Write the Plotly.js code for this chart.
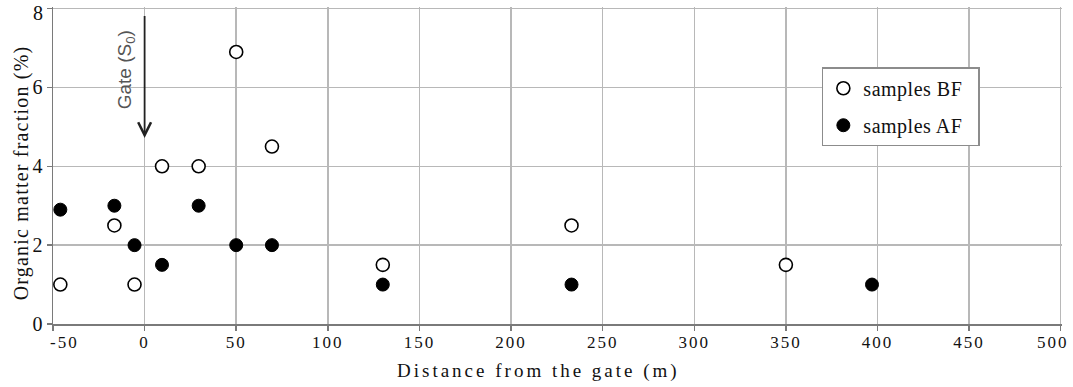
<!DOCTYPE html>
<html>
<head>
<meta charset="utf-8">
<script src="https://cdn.plot.ly/plotly-3.0.1.min.js"></script>
<style>
html,body{margin:0;padding:0;background:#fff;}
#chart{width:1073px;height:387px;}
.xtick text{letter-spacing:2px;}
.legendtext{letter-spacing:0.5px;}
.annotation[data-index="2"] text{letter-spacing:3px;}
.annotation[data-index="3"] text{letter-spacing:1.2px;}
.annotation[data-index="5"] text{letter-spacing:2px;}
.annotation[data-index="6"] text{letter-spacing:2px;}
</style>
</head>
<body>
<div id="chart"></div>
<script>
// Samples before flushing (open circles)
const bfDistance = [-46, -16.5, -5.5, 9.5, 29.5, 50, 69.5, 130, 233, 350];
const bfOrganic  = [1.0, 2.5, 1.0, 4.0, 4.0, 6.9, 4.5, 1.5, 2.5, 1.5];
// Samples after flushing (filled circles)
const afDistance = [-46, -16.5, -5.5, 9.5, 29.5, 50, 69.5, 130, 233, 397];
const afOrganic  = [2.9, 3.0, 2.0, 1.5, 3.0, 2.0, 2.0, 1.0, 1.0, 1.0];
const xTicks = [-50, 0, 50, 100, 150, 200, 250, 300, 350, 400, 450, 500];
const yTicks = [0, 2, 4, 6, 8];
const gateX = 0;

const serif = 'Liberation Serif, Times New Roman, serif';
const xFirst = xTicks[0], xLast = xTicks[xTicks.length - 1];
const yLast = yTicks[yTicks.length - 1];
const pad = '\u00a0\u00a0';

const traces = [
  {
    x: bfDistance, y: bfOrganic, mode: 'markers', type: 'scatter',
    name: 'samples BF' + pad, legendgroup: 'bf',
    marker: {size: 13, color: '#ffffff', line: {color: '#000000', width: 1.6}},
    cliponaxis: false
  },
  {
    x: afDistance, y: afOrganic, mode: 'markers', type: 'scatter',
    name: 'samples AF' + pad, legendgroup: 'af',
    marker: {size: 13, color: '#000000', line: {color: '#000000', width: 1}},
    cliponaxis: false
  }
];

const tickFontX = {family: serif, size: 17, color: '#111111'};
const tickFontY = {family: serif, size: 20, color: '#111111'};

const layout = {
  width: 1073, height: 387,
  margin: {l: 53, r: 11, t: 7, b: 63},
  paper_bgcolor: '#ffffff', plot_bgcolor: '#ffffff',
  font: {family: serif, color: '#111111'},
  showlegend: true,
  legend: {
    x: 0.762, y: 0.81, xanchor: 'left', yanchor: 'top',
    bgcolor: '#ffffff', bordercolor: '#8c8c8c', borderwidth: 1.5,
    font: {family: serif, size: 20, color: '#111111'},
    tracegroupgap: 8, traceorder: 'grouped'
  },
  xaxis: {
    range: [xFirst, xLast + 0.7], tickvals: xTicks,
    ticktext: xTicks.map((v, i) => (i === 0 || i === xTicks.length - 1) ? '' : String(v)),
    showgrid: true, gridcolor: '#b8b8b8', gridwidth: 1.5,
    showline: true, linecolor: '#7a7a7a', linewidth: 1.5,
    ticks: 'outside', ticklen: 5, tickcolor: '#7a7a7a', tickwidth: 1.5,
    tickfont: tickFontX, ticklabelstandoff: -3,
    zeroline: false
  },
  yaxis: {
    range: [yTicks[0], yLast + 0.04], tickvals: yTicks,
    ticktext: yTicks.map((v, i) => i === yTicks.length - 1 ? '' : String(v)),
    showgrid: true, gridcolor: '#b8b8b8', gridwidth: 1.5,
    showline: true, linecolor: '#7a7a7a', linewidth: 1.5,
    ticks: 'outside', ticklen: 5, tickcolor: '#7a7a7a', tickwidth: 1.5,
    tickfont: tickFontY,
    zeroline: false
  },
  annotations: [
    {
      x: gateX, y: 4.72, xref: 'x', yref: 'y',
      ax: gateX, ay: 7.85, axref: 'x', ayref: 'y',
      text: '', showarrow: true, arrowhead: 5, arrowsize: 1.4, arrowwidth: 1.8,
      arrowcolor: '#222222'
    },
    {
      x: gateX, y: 6.45, xref: 'x', yref: 'y', xshift: -19,
      text: 'Gate (S<sub>0</sub>)', showarrow: false, textangle: -90,
      font: {family: 'Liberation Sans, Arial, sans-serif', size: 19, color: '#555555'}
    },
    {
      x: 0.481, y: 0, xref: 'paper', yref: 'paper', yshift: -47, yanchor: 'middle',
      text: 'Distance from the gate (m)', showarrow: false,
      font: {family: serif, size: 19, color: '#111111'}
    },
    {
      x: 0, y: 0.476, xref: 'paper', yref: 'paper', xshift: -32, xanchor: 'center',
      text: 'Organic matter fraction (%)', showarrow: false, textangle: -90,
      font: {family: serif, size: 20, color: '#111111'}
    },
    {
      x: 0, y: yLast, xref: 'paper', yref: 'y', xanchor: 'right', yanchor: 'middle',
      xshift: -8, yshift: -4,
      text: String(yLast), showarrow: false, font: tickFontY
    },
    {
      x: xFirst, y: 0, xref: 'x', yref: 'paper', xanchor: 'center', yanchor: 'middle',
      xshift: 11, yshift: -18,
      text: String(xFirst), showarrow: false, font: tickFontX
    },
    {
      x: xLast, y: 0, xref: 'x', yref: 'paper', xanchor: 'center', yanchor: 'middle',
      xshift: -8, yshift: -18,
      text: String(xLast), showarrow: false, font: tickFontX
    }
  ]
};

Plotly.newPlot('chart', traces, layout, {displayModeBar: false, staticPlot: true});
</script>
</body>
</html>
